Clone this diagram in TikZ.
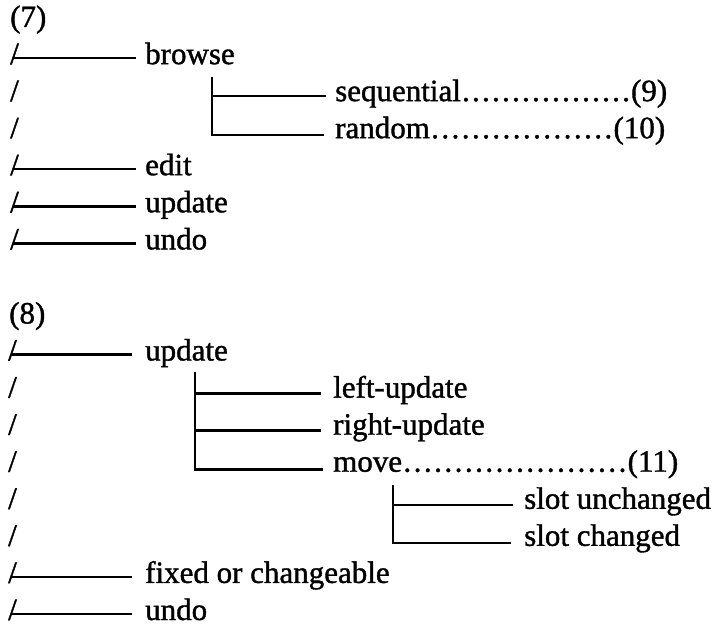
\documentclass[tikz,border=0pt]{standalone}
\usepackage{fontspec}
\setmainfont{Liberation Serif}[FakeBold=1.2]
\usetikzlibrary{calc}
% dotted leader between a label and its reference number, total width #1
\newcommand\leaderrow[3]{\hbox to #1pt{#2\xleaders\hbox to 10pt{\hss.\hss}\hfill#3}}
\begin{document}
\begin{tikzpicture}[x=1pt,y=1pt,
  every node/.style={inner sep=0pt, anchor=base west, font=\fontsize{31}{37}\selectfont},
  conn/.style={line width=2.5pt}]
\useasboundingbox (0,0) rectangle (719,-626);

% ---------- (7) ----------
\node (h7) at (10,-27) {(7)};
\node (s7a) at (10,-64.1) {/};
\node (s7b) at (10,-101.1) {/};
\node (s7c) at (10,-138.2) {/};
\node (s7d) at (10,-175.2) {/};
\node (s7e) at (10,-212.3) {/};
\node (s7f) at (10,-249.4) {/};

\node (browse) at (145,-64.1) {browse};
\node (seq) at (335,-101.1) {\leaderrow{332}{sequential}{(9)}};
\node (rnd) at (335,-138.2) {\leaderrow{330}{random}{(10)}};
\node (edit) at (145,-175.2) {edit};
\node (upd7) at (145,-212.3) {update};
\node (undo7) at (145,-249.4) {undo};

\foreach \s/\t in {s7a/browse, s7d/edit, s7e/upd7, s7f/undo7}
  \draw[conn] ($(\s.base west)+(3,6)$) -- ($(\t.base west)+(-9,6)$);

\coordinate (v7) at (212,-77);
\draw[conn] (v7) |- ($(seq.base west)+(-9,5)$);
\draw[conn] (v7) |- ($(rnd.base west)+(-11,3)$);

% ---------- (8) ----------
\node (h8) at (9,-323.5) {(8)};
\node (s8a) at (8,-360.5) {/};
\node (s8b) at (8,-397.6) {/};
\node (s8c) at (8,-434.7) {/};
\node (s8d) at (8,-471.7) {/};
\node (s8e) at (8,-508.8) {/};
\node (s8f) at (8,-545.8) {/};
\node (s8g) at (8,-582.9) {/};
\node (s8h) at (8,-620) {/};

\node (upd8) at (145,-360.5) {update};
\node (lupd) at (333,-397.6) {left-update};
\node (rupd) at (333,-434.7) {right-update};
\node (move) at (333,-471.7) {\leaderrow{345}{move}{(11)}};
\node (sunch) at (524,-508.8) {slot unchanged};
\node (sch) at (524,-545.8) {slot changed};
\node (fixed) at (145,-582.9) {fixed or changeable};
\node (undo8) at (145,-620) {undo};

\foreach \s/\t in {s8a/upd8, s8g/fixed, s8h/undo8}
  \draw[conn] ($(\s.base west)+(3,6)$) -- ($(\t.base west)+(-13,6)$);

\coordinate (v8) at (195,-372);
\draw[conn] (v8) |- ($(lupd.base west)+(-12,4)$);
\draw[conn] (v8) |- ($(rupd.base west)+(-12,4)$);
\draw[conn] (v8) |- ($(move.base west)+(-10,2)$);

\coordinate (v9) at (393,-485);
\draw[conn] (v9) |- ($(sunch.base west)+(-11,4)$);
\draw[conn] (v9) |- ($(sch.base west)+(-13,3)$);
\end{tikzpicture}
\end{document}
